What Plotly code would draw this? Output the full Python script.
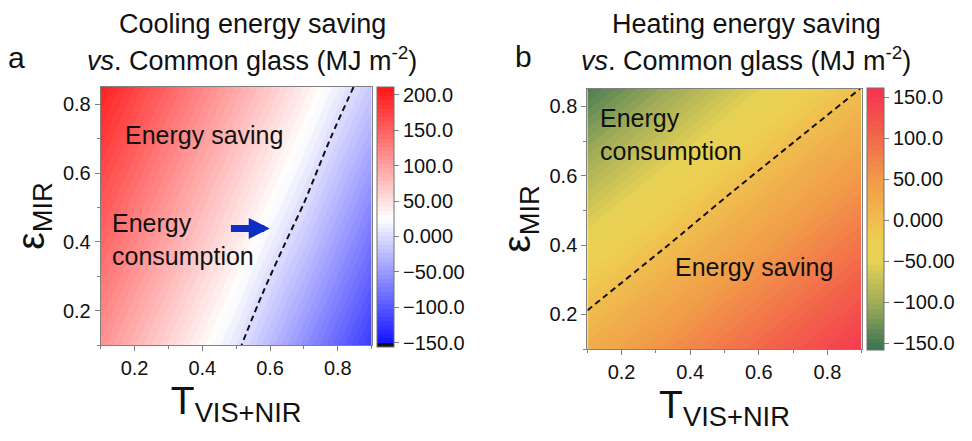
import plotly.graph_objects as go

# Transmittance (VIS+NIR) grid columns and mid-IR emissivity grid rows
T_VALUES = [0.1, 0.3, 0.5, 0.7, 0.9]
EPS_VALUES = [0.1, 0.25, 0.4, 0.55, 0.7, 0.85]

# Cooling energy saving vs. common glass (MJ m-2), rows follow EPS_VALUES
COOLING_SAVING = [
    [111, 58, 5, -58, -122],
    [129, 76, 23, -36, -100],
    [147, 94, 41, -15, -79],
    [164, 111, 58, 5, -58],
    [182, 129, 76, 23, -36],
    [200, 147, 94, 41, -15],
]

# Heating energy saving vs. common glass (MJ m-2), rows follow EPS_VALUES
HEATING_SAVING = [
    [23, 55, 86, 118, 150],
    [-8, 25, 57, 88, 120],
    [-42, -6, 27, 59, 90],
    [-77, -40, -3, 29, 61],
    [-111, -75, -38, -1, 31],
    [-146, -109, -72, -35, 1],
]

AXIS_TICKS = [0.2, 0.4, 0.6, 0.8]

COOL_CB_TICKS = [-150, -100, -50, 0, 50, 100, 150, 200]
COOL_CB_TEXT = ["−150.0", "−100.0", "−50.00", "0.000", "50.00", "100.0", "150.0", "200.0"]
HEAT_CB_TICKS = [-150, -100, -50, 0, 50, 100, 150]
HEAT_CB_TEXT = ["−150.0", "−100.0", "−50.00", "0.000", "50.00", "100.0", "150.0"]

FONT = "Liberation Sans, Arial, sans-serif"
INK = "#111111"
FRAME = "#808080"


def hex_to_rgb(h):
    h = h.lstrip("#")
    return tuple(int(h[i:i + 2], 16) for i in (0, 2, 4))


def colour_at(anchors, v):
    if v <= anchors[0][0]:
        v = anchors[0][0]
    if v >= anchors[-1][0]:
        v = anchors[-1][0]
    for (v0, c0), (v1, c1) in zip(anchors[:-1], anchors[1:]):
        if v0 <= v <= v1:
            t = (v - v0) / (v1 - v0)
            a, b = hex_to_rgb(c0), hex_to_rgb(c1)
            r, g, bl = (round(a[i] + (b[i] - a[i]) * t) for i in range(3))
            return f"rgb({r},{g},{bl})"
    r, g, b = hex_to_rgb(anchors[-1][1])
    return f"rgb({r},{g},{b})"


def banded_scale(anchors, zmin, zmax, step, floor_colour=None):
    """Piecewise-constant colour scale with one band per `step` units."""
    edges = [zmin] + [v for v in range(-300, 300, step) if zmin < v < zmax] + [zmax]
    scale = []
    for lo, hi in zip(edges[:-1], edges[1:]):
        if floor_colour is not None and hi <= anchors[0][0]:
            c = floor_colour
        else:
            c = colour_at(anchors, (lo + hi) / 2)
        scale.append([(lo - zmin) / (zmax - zmin), c])
        scale.append([(hi - zmin) / (zmax - zmin), c])
    return scale


COOL_MIN, COOL_MAX = -156, 211
HEAT_MIN, HEAT_MAX = -158, 161

cool_scale = banded_scale(
    [(-150, "#1414ff"), (25, "#ffffff"), (211, "#ff1414")],
    COOL_MIN, COOL_MAX, 6, floor_colour="rgb(20,20,20)",
)
heat_scale = banded_scale(
    [(-158, "#3c7252"), (-150, "#457a54"), (-100, "#a3ad58"), (-50, "#e6d255"),
     (-25, "#eecf52"), (0, "#f0bd4e"), (50, "#f19a48"), (100, "#f2694a"),
     (150, "#f6394f"), (161, "#f8304f")],
    HEAT_MIN, HEAT_MAX, 6,
)


def colourbar(x, y, length, ticks, text):
    return dict(
        x=x, xanchor="left", y=y, yanchor="middle", len=length, lenmode="fraction",
        thickness=17, xpad=0, ypad=0, outlinecolor="#707070", outlinewidth=1,
        tickvals=ticks, ticktext=text, ticks="outside", ticklen=5, tickcolor=FRAME,
        tickfont=dict(family=FONT, size=20, color=INK),
    )


fig = go.Figure()

panels = [
    ("x", "y", COOLING_SAVING, cool_scale, COOL_MIN, COOL_MAX,
     colourbar(377 / 972, 1 - 217 / 441, 260 / 441, COOL_CB_TICKS, COOL_CB_TEXT)),
    ("x2", "y2", HEATING_SAVING, heat_scale, HEAT_MIN, HEAT_MAX,
     colourbar(867 / 972, 1 - 219 / 441, 262 / 441, HEAT_CB_TICKS, HEAT_CB_TEXT)),
]

for xa, ya, z, scale, zmin, zmax, cb in panels:
    fig.add_trace(go.Heatmap(
        x=T_VALUES, y=EPS_VALUES, z=z, zsmooth="best",
        colorscale=scale, zmin=zmin, zmax=zmax, colorbar=cb,
        xaxis=xa, yaxis=ya, hoverinfo="skip",
    ))
    # break-even (zero saving) contour
    fig.add_trace(go.Contour(
        x=T_VALUES, y=EPS_VALUES, z=z, autocontour=False,
        contours=dict(start=0, end=0, size=1, coloring="none"),
        line=dict(color=INK, width=2, dash="6px,4px"),
        showscale=False, showlegend=False, hoverinfo="skip",
        xaxis=xa, yaxis=ya,
    ))


def x_axis(domain, anchor):
    return dict(
        domain=domain, anchor=anchor, range=[0.1, 0.9],
        tickvals=AXIS_TICKS, ticks="outside", ticklen=5, tickcolor=FRAME,
        minor=dict(ticks="outside", tick0=0.1, dtick=0.1, ticklen=3, tickcolor=FRAME),
        showline=True, mirror=True, linecolor=FRAME, linewidth=1,
        showgrid=False, zeroline=False,
        tickfont=dict(family=FONT, size=20, color=INK),
        title=dict(text="T<sub>VIS+NIR</sub>", standoff=8,
                   font=dict(family=FONT, size=39, color=INK)),
    )


def y_axis(domain, anchor):
    return dict(
        domain=domain, anchor=anchor, range=[0.1, 0.85],
        tickvals=AXIS_TICKS, ticks="outside", ticklen=5, tickcolor=FRAME,
        minor=dict(ticks="outside", tick0=0.1, dtick=0.1, ticklen=3, tickcolor=FRAME),
        showline=True, mirror=True, linecolor=FRAME, linewidth=1,
        showgrid=False, zeroline=False,
        tickfont=dict(family=FONT, size=20, color=INK),
        title=dict(text="ε<sub>MIR</sub>", standoff=6,
                   font=dict(family=FONT, size=39, color=INK)),
    )


annotations = []


def label(text, x, y, xref, yref, size, xanchor="center", align="center"):
    annotations.append(dict(
        text=text, x=x, y=y, xref=xref, yref=yref, xanchor=xanchor, yanchor="middle",
        align=align, showarrow=False, font=dict(family=FONT, size=size, color=INK),
    ))


# panel headings
label("Cooling energy saving", 252 / 972, 1 - 23.6 / 441, "paper", "paper", 27)
label("<i>vs</i>. Common glass (MJ m<sup>-2</sup>)", 252 / 972, 1 - 58.6 / 441, "paper", "paper", 27)
label("Heating energy saving", 746 / 972, 1 - 23.6 / 441, "paper", "paper", 27)
label("<i>vs</i>. Common glass (MJ m<sup>-2</sup>)", 746 / 972, 1 - 58.6 / 441, "paper", "paper", 27)
label("a", 16 / 972, 1 - 57 / 441, "paper", "paper", 30)
label("b", 523 / 972, 1 - 56 / 441, "paper", "paper", 30)

# region labels, panel a
label("Energy saving", 0.405, 0.71, "x", "y", 25)
label("Energy<br>consumption", 0.1275, 0.406, "x", "y", 25, xanchor="left", align="left")
annotations.append(dict(
    x=0.599, y=0.439, ax=0.48, ay=0.439, xref="x", yref="y", axref="x", ayref="y",
    text="", showarrow=True, arrowhead=2, arrowsize=0.6, arrowwidth=7,
    arrowcolor="#0d2fc4",
))

# region labels, panel b
label("Energy<br>consumption", 0.131, 0.719, "x2", "y2", 25, xanchor="left", align="left")
label("Energy saving", 0.586, 0.336, "x2", "y2", 25)

fig.update_layout(
    width=972, height=441,
    margin=dict(l=0, r=0, t=0, b=0),
    paper_bgcolor="white", plot_bgcolor="white",
    showlegend=False,
    font=dict(family=FONT, color=INK),
    xaxis=x_axis([100.7 / 972, 371.7 / 972], "y"),
    yaxis=y_axis([1 - 345 / 441, 1 - 87 / 441], "x"),
    xaxis2=x_axis([587.3 / 972, 861.7 / 972], "y2"),
    yaxis2=y_axis([1 - 349 / 441, 1 - 89 / 441], "x2"),
    annotations=annotations,
)

fig.write_html("out.html")
